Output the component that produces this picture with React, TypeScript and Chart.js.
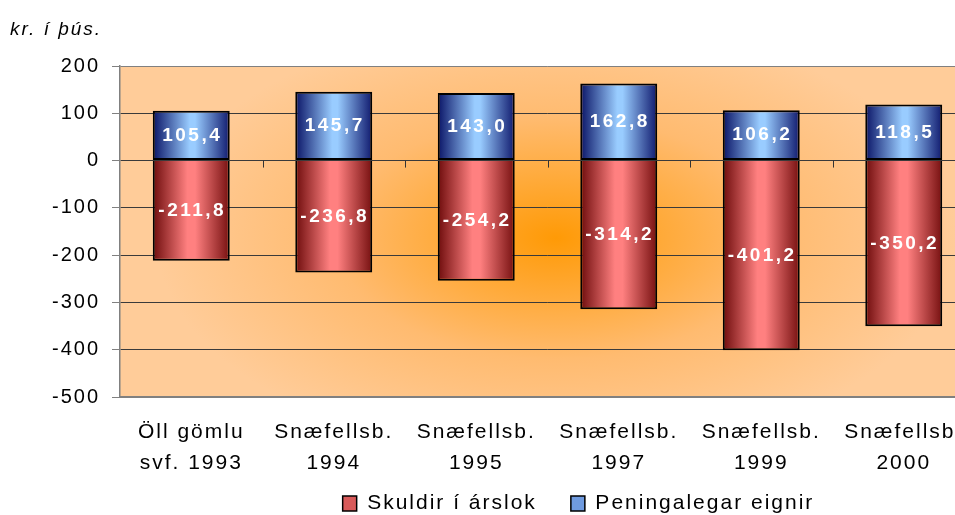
import React, { useEffect, useRef } from 'react';
import { Chart, registerables } from 'chart.js';
Chart.register(...registerables);

const categories: string[][] = [
  ['Öll gömlu', 'svf. 1993'],
  ['Snæfellsb.', '1994'],
  ['Snæfellsb.', '1995'],
  ['Snæfellsb.', '1997'],
  ['Snæfellsb.', '1999'],
  ['Snæfellsb.', '2000'],
];
const seriesNames = ['Skuldir í árslok', 'Peningalegar eignir'];
const skuldir = [-211.8, -236.8, -254.2, -314.2, -401.2, -350.2];
const eignir = [105.4, 145.7, 143.0, 162.8, 106.2, 118.5];
const yMin = -500;
const yMax = 200;
const yStep = 100;
const unitLabel = 'kr. í þús.';

const FONT = "'Liberation Sans', Arial, sans-serif";
const BAR_PCT = 0.54;

const redStops: [number, string][] = [
  [0, '#6e0c0c'],
  [0.45, '#ff8080'],
  [0.55, '#ff8080'],
  [1, '#761010'],
];
const blueStops: [number, string][] = [
  [0, '#0a1466'],
  [0.48, '#99ccff'],
  [0.55, '#99ccff'],
  [1, '#101a6e'],
];
const legendFills = ['#d85a5a', '#6f9be0'];

function barFill(stops: [number, string][], solid: string) {
  return (c: any) => {
    if (c.type !== 'data') return solid;
    const chart = c.chart;
    const xs = chart.scales?.x;
    if (!chart.chartArea || !xs) return solid;
    const cx = xs.getPixelForValue(c.dataIndex);
    const w = (xs.width / categories.length) * BAR_PCT;
    const g = chart.ctx.createLinearGradient(cx - w / 2, 0, cx + w / 2, 0);
    stops.forEach(([o, col]) => g.addColorStop(o, col));
    return g;
  };
}

const fmt = (v: number) => v.toFixed(1).replace('.', ',');

const decorPlugin = {
  id: 'decor',
  beforeUpdate(chart: any) {
    chart.ctx.letterSpacing = '2px';
  },
  afterLayout(chart: any) {
    const L = chart.legend;
    if (L) {
      const dx = 91;
      const dy = 9;
      L.left += dx;
      L.right += dx;
      L.top += dy;
      L.bottom += dy;
    }
    const xs = chart.scales.x;
    if (xs) {
      xs.bottom = xs.top + 90;
    }
  },
  beforeDraw(chart: any) {
    const { ctx, chartArea } = chart;
    ctx.letterSpacing = '2px';
    const { left, top, right, bottom } = chartArea;
    ctx.save();
    ctx.beginPath();
    ctx.rect(left, top, right - left, bottom - top);
    ctx.clip();
    const cx = left + (right - left) * 0.51;
    const cy = top + (bottom - top) * 0.52;
    ctx.translate(cx, cy);
    ctx.scale(1, 0.55);
    const g = ctx.createRadialGradient(0, 0, 0, 0, 0, 400);
    g.addColorStop(0, '#ff9a06');
    g.addColorStop(0.55, '#ffbb70');
    g.addColorStop(1, '#ffcc99');
    ctx.fillStyle = g;
    ctx.fillRect(-2000, -2000, 4000, 4000);
    ctx.restore();

    ctx.save();
    ctx.font = `italic 19px ${FONT}`;
    ctx.letterSpacing = '2px';
    ctx.fillStyle = '#000';
    ctx.textAlign = 'left';
    ctx.textBaseline = 'middle';
    ctx.fillText(unitLabel, 10, 30);
    ctx.restore();
  },
  beforeDatasetsDraw(chart: any) {
    const { ctx } = chart;
    const xs = chart.scales.x;
    const ys = chart.scales.y;
    const y0 = ys.getPixelForValue(0);
    const half = xs.width / categories.length / 2;
    ctx.save();
    ctx.strokeStyle = '#333';
    ctx.lineWidth = 1;
    for (let i = 0; i < categories.length; i++) {
      const x = Math.round(xs.getPixelForValue(i) + half) + 0.5;
      ctx.beginPath();
      ctx.moveTo(x, y0);
      ctx.lineTo(x, y0 + 7);
      ctx.stroke();
    }
    ctx.restore();
  },
  afterDatasetsDraw(chart: any) {
    const { ctx } = chart;
    ctx.save();
    ctx.font = `bold 19px ${FONT}`;
    ctx.letterSpacing = '2.5px';
    ctx.fillStyle = '#fff';
    ctx.textAlign = 'center';
    ctx.textBaseline = 'middle';
    chart.data.datasets.forEach((ds: any, di: number) => {
      const meta = chart.getDatasetMeta(di);
      meta.data.forEach((el: any, i: number) => {
        const y = (el.y + el.base) / 2;
        ctx.fillText(fmt(ds.data[i]), el.x + 1, y);
      });
    });
    ctx.restore();
  },
};

export default function App() {
  const ref = useRef<HTMLCanvasElement>(null);
  useEffect(() => {
    const chart = new Chart(ref.current as HTMLCanvasElement, {
      type: 'bar',
      data: {
        labels: categories,
        datasets: [
          {
            label: seriesNames[0],
            data: skuldir,
            backgroundColor: barFill(redStops, legendFills[0]),
            borderColor: '#000',
            borderWidth: 2,
            borderSkipped: 'start',
            barPercentage: BAR_PCT,
            categoryPercentage: 1,
          },
          {
            label: seriesNames[1],
            data: eignir,
            backgroundColor: barFill(blueStops, legendFills[1]),
            borderColor: '#000',
            borderWidth: 2,
            borderSkipped: false,
            barPercentage: BAR_PCT,
            categoryPercentage: 1,
          },
        ],
      },
      options: {
        responsive: false,
        animation: false,
        devicePixelRatio: 1,
        layout: { padding: { top: 66, left: 0, right: 15, bottom: 0 } },
        plugins: {
          tooltip: { enabled: false },
          title: { display: false },
          legend: {
            position: 'bottom',
            labels: {
              color: '#000',
              font: { family: FONT, size: 21 },
              boxWidth: 14,
              boxHeight: 15,
              padding: 34,
              generateLabels: (ch: any) => {
                const items = (Chart as any).defaults.plugins.legend.labels.generateLabels(ch);
                items.forEach((it: any, i: number) => {
                  it.fillStyle = legendFills[i];
                  it.strokeStyle = '#000';
                  it.lineWidth = 1.5;
                });
                return items;
              },
            },
          },
        },
        scales: {
          x: {
            stacked: true,
            grid: { display: false, drawTicks: false },
            border: { display: true, color: '#808080', width: 2 },
            ticks: {
              color: '#000',
              font: { family: FONT, size: 21, lineHeight: 1.48 },
              padding: 20,
              maxRotation: 0,
              autoSkip: false,
            },
            afterFit: (s: any) => {
              s.height = 53;
            },
          },
          y: {
            stacked: true,
            min: yMin,
            max: yMax,
            ticks: {
              stepSize: yStep,
              color: '#000',
              font: { family: FONT, size: 20 },
              padding: 12,
            },
            grid: {
              color: (c: any) => (c.tick && c.tick.value === yMax ? '#808080' : '#3a3a3a'),
              lineWidth: 1,
              tickLength: 8,
              tickColor: '#808080',
            },
            border: { display: true, color: '#808080', width: 1.5 },
            afterFit: (s: any) => {
              s.width = 120;
            },
          },
        },
      },
      plugins: [decorPlugin],
    } as any);
    return () => chart.destroy();
  }, []);
  return (
    <div style={{ position: 'fixed', left: 0, top: 0, width: 990, height: 515, background: '#fff' }}>
      <canvas ref={ref} width={990} height={515} style={{ width: 990, height: 515, display: 'block' }} />
    </div>
  );
}
